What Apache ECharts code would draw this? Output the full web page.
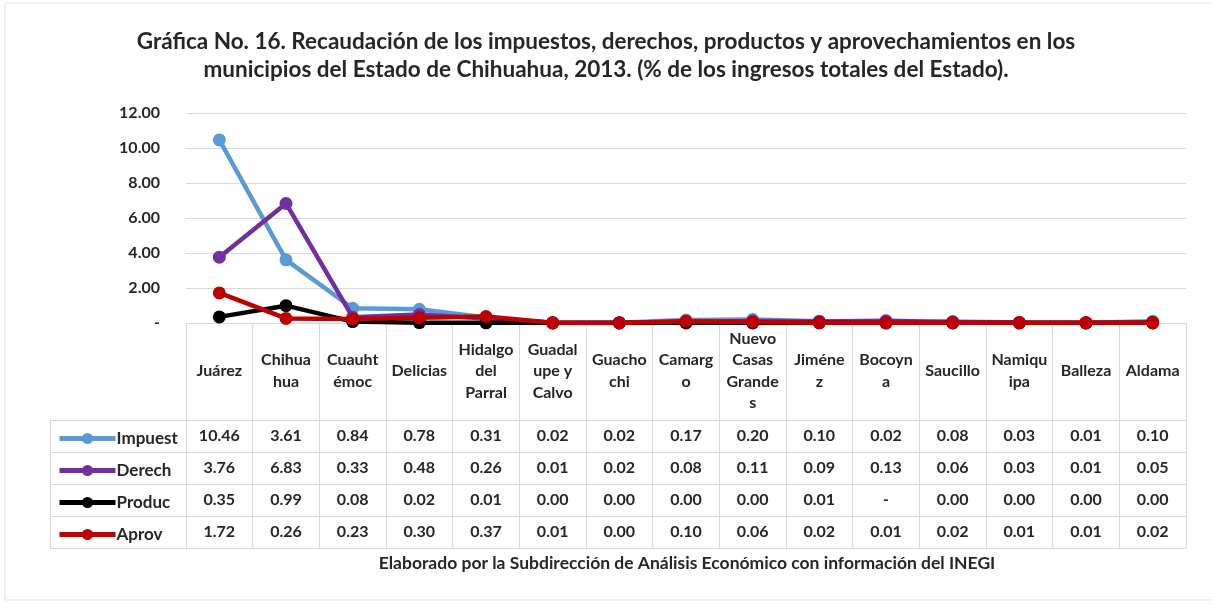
<!DOCTYPE html>
<html>
<head>
<meta charset="utf-8">
<script src="https://cdn.jsdelivr.net/npm/echarts@6/dist/echarts.min.js"></script>
<style>
  html, body { margin: 0; padding: 0; background: #fff; }
  #chart { width: 1212px; height: 604px; }
</style>
</head>
<body>
<div id="chart"></div>
<script>
// municipios (con los cortes de línea de la tabla original)
var categories = ['Juárez', 'Chihua\nhua', 'Cuauht\némoc', 'Delicias', 'Hidalgo\ndel\nParral',
  'Guadal\nupe y\nCalvo', 'Guacho\nchi', 'Camarg\no', 'Nuevo\nCasas\nGrande\ns', 'Jiméne\nz',
  'Bocoyn\na', 'Saucillo', 'Namiqu\nipa', 'Balleza', 'Aldama'];

var seriesNames = ['Impuest', 'Derech', 'Produc', 'Aprov'];
var colors = ['#5b9bd5', '#7030a0', '#000000', '#c00000'];

// % de los ingresos totales del Estado
var impuest = [10.46, 3.61, 0.84, 0.78, 0.31, 0.02, 0.02, 0.17, 0.20, 0.10, 0.02, 0.08, 0.03, 0.01, 0.10];
var derech  = [3.76, 6.83, 0.33, 0.48, 0.26, 0.01, 0.02, 0.08, 0.11, 0.09, 0.13, 0.06, 0.03, 0.01, 0.05];
var produc  = [0.35, 0.99, 0.08, 0.02, 0.01, 0.003, 0.003, 0.003, 0.003, 0.01, 0, 0.003, 0.003, 0.003, 0.003];
var aprov   = [1.72, 0.26, 0.23, 0.30, 0.37, 0.01, 0.003, 0.10, 0.06, 0.02, 0.01, 0.02, 0.01, 0.01, 0.02];

var yTicks = [0, 2, 4, 6, 8, 10, 12];

var allData = [impuest, derech, produc, aprov];
var font = 'Lato';
var gridColor = '#d9d9d9';
var textColor = '#262626';

function fmt(v) { return v === 0 ? '-' : v.toFixed(2); }

var myChart = echarts.init(document.getElementById('chart'));

// eje x principal: encabezados y líneas verticales de la tabla
var xAxes = [{
  type: 'category',
  gridIndex: 0,
  data: categories,
  axisLine: { lineStyle: { color: gridColor, width: 1 } },
  axisTick: { show: true, length: 225, lineStyle: { color: gridColor } },
  axisLabel: {
    interval: 0, margin: 48, verticalAlign: 'middle', lineHeight: 21.5,
    fontFamily: font, fontSize: 16, fontWeight: 'bold', color: textColor
  }
}];
// una fila de valores por serie
allData.forEach(function (arr, i) {
  xAxes.push({
    type: 'category',
    gridIndex: 0,
    position: 'bottom',
    data: arr.map(fmt),
    axisLine: { show: false },
    axisTick: { show: false },
    axisLabel: {
      interval: 0, margin: 113 + 32 * i, verticalAlign: 'middle',
      fontFamily: font, fontSize: 16, fontWeight: 'bold', color: textColor
    }
  });
});
// rejilla de las filas de la tabla
xAxes.push({ type: 'value', gridIndex: 1, show: false });

var legends = seriesNames.map(function (name, i) {
  return {
    data: [name],
    left: 52,
    top: 425 + 32 * i,
    itemWidth: 56,
    itemHeight: 14,
    selectedMode: false,
    lineStyle: { width: 5 },
    textStyle: { fontFamily: font, fontSize: 17, fontWeight: 'bold', color: textColor, padding: [0, 0, 0, -4] }
  };
});

var option = {
  backgroundColor: '#fff',
  animation: false,
  title: {
    text: 'Gráfica No. 16. Recaudación de los impuestos, derechos, productos y aprovechamientos en los\nmunicipios del Estado de Chihuahua, 2013. (% de los ingresos totales del Estado).',
    left: 'center',
    top: 23,
    textStyle: { fontFamily: font, fontSize: 22.5, fontWeight: 'bold', color: textColor, lineHeight: 28, align: 'center' }
  },
  legend: legends,
  grid: [
    { left: 186, right: 26, top: 113, height: 210 },
    { left: 50, right: 26, top: 420, height: 128 }
  ],
  xAxis: xAxes,
  yAxis: [{
    type: 'value',
    gridIndex: 0,
    min: yTicks[0],
    max: yTicks[yTicks.length - 1],
    interval: 2,
    axisLine: { show: false },
    axisTick: { show: false },
    splitLine: { lineStyle: { color: gridColor, width: 1 } },
    axisLabel: {
      margin: 26, formatter: fmt,
      fontFamily: font, fontSize: 16, fontWeight: 'bold', color: textColor
    }
  }, {
    type: 'category',
    gridIndex: 1,
    data: seriesNames,
    inverse: true,
    axisLine: { show: true, lineStyle: { color: gridColor } },
    axisTick: { show: false },
    axisLabel: { show: false },
    splitLine: { show: true, lineStyle: { color: gridColor } }
  }],
  graphic: [{
    type: 'rect',
    shape: { x: 5, y: 3, width: 1210, height: 597 },
    style: { fill: null, stroke: '#e3e3e3', lineWidth: 1 },
    silent: true
  }, {
    type: 'text',
    x: 687,
    y: 563,
    style: {
      text: 'Elaborado por la Subdirección de Análisis Económico con información del INEGI',
      font: 'bold 17.5px Lato', fill: textColor, align: 'center', verticalAlign: 'middle'
    }
  }],
  series: seriesNames.map(function (name, i) {
    return {
      name: name,
      type: 'line',
      xAxisIndex: 0,
      yAxisIndex: 0,
      data: allData[i],
      symbol: 'circle',
      symbolSize: 13,
      color: colors[i],
      lineStyle: { width: 4.5, color: colors[i] },
      itemStyle: { color: colors[i] },
      z: 3 + i
    };
  })
};

myChart.setOption(option);
</script>
</body>
</html>
